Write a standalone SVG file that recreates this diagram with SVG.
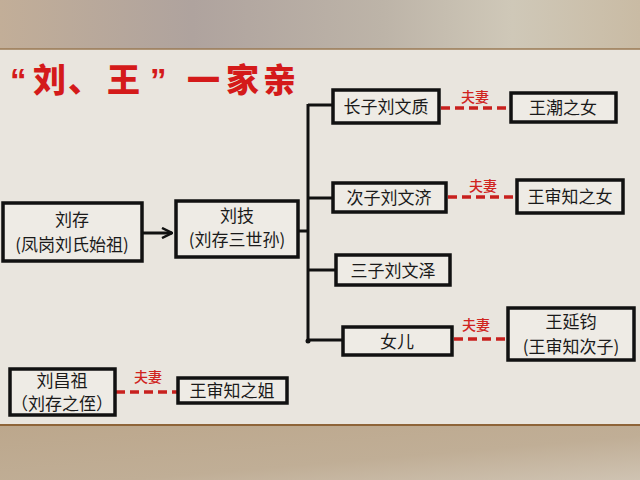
<svg xmlns="http://www.w3.org/2000/svg" width="640" height="480" viewBox="0 0 640 480">
<defs>
<linearGradient id="topband" x1="0" y1="0" x2="1" y2="0">
<stop offset="0" stop-color="#C2AE98"/>
<stop offset="0.3" stop-color="#AFA39E"/>
<stop offset="0.6" stop-color="#BDB4A8"/>
<stop offset="0.8" stop-color="#CFC8B8"/>
<stop offset="1" stop-color="#C9BBA4"/>
</linearGradient>
<linearGradient id="botband" x1="0" y1="0" x2="1" y2="1">
<stop offset="0" stop-color="#BCA78C"/>
<stop offset="0.6" stop-color="#C0AE96"/>
<stop offset="1" stop-color="#CFC3B2"/>
</linearGradient>
<marker id="arrow" viewBox="0 0 12 12" refX="11" refY="6" markerWidth="12" markerHeight="12" markerUnits="userSpaceOnUse" orient="auto">
<path d="M1,1 L11,6 L1,11" fill="none" stroke="#111" stroke-width="2.5"/>
</marker>
<style>
.box{fill:#EEEBE5;stroke:#111;stroke-width:3.5}
.t{font-family:"Noto Sans CJK SC","Noto Sans",sans-serif;font-size:17px;fill:#1a1a1a;text-anchor:middle}
.conn{fill:none;stroke:#111;stroke-width:3}
.dash{fill:none;stroke:#C8201E;stroke-width:3.5;stroke-dasharray:9,5}
.lbl{font-family:"Noto Sans CJK SC","Noto Sans",sans-serif;font-size:14px;fill:#D0241F;text-anchor:middle;font-weight:500}
.title{font-family:"Noto Sans CJK SC",sans-serif;font-size:33px;font-weight:900;fill:#D41A1A}
.q{font-family:"Liberation Sans",sans-serif;font-weight:bold}
</style>
</defs>
<rect x="0" y="0" width="640" height="480" fill="#E9E5DE"/>
<rect x="0" y="0" width="640" height="49" fill="url(#topband)"/>
<line x1="0" y1="49" x2="640" y2="49" stroke="#9A7A55" stroke-width="1.5"/>
<rect x="0" y="425" width="640" height="55" fill="url(#botband)"/>
<line x1="0" y1="425" x2="640" y2="425" stroke="#8E6438" stroke-width="2"/>

<text class="title" y="92"><tspan class="q" x="10">“</tspan><tspan x="33">刘</tspan><tspan x="68">、</tspan><tspan x="107">王</tspan><tspan class="q" x="150">”</tspan><tspan x="187">一</tspan><tspan x="226">家</tspan><tspan x="263">亲</tspan></text>

<g id="connectors">
<line class="conn" x1="142" y1="233" x2="172" y2="233" marker-end="url(#arrow)"/>
<line class="conn" x1="298" y1="231" x2="308" y2="231"/>
<line class="conn" x1="308" y1="104" x2="308" y2="341"/>
<line class="conn" x1="308" y1="105" x2="333" y2="105"/>
<line class="conn" x1="308" y1="198" x2="333" y2="198"/>
<line class="conn" x1="308" y1="270" x2="336" y2="270"/>
<line class="conn" x1="308" y1="340" x2="343" y2="340"/>
<circle cx="308" cy="341" r="2.5" fill="#111"/>
<line class="dash" x1="441" y1="108" x2="510" y2="108"/>
<line class="dash" x1="448" y1="197" x2="516" y2="197"/>
<line class="dash" x1="454" y1="339" x2="508" y2="339"/>
<line class="dash" x1="116" y1="392" x2="178" y2="392"/>
<text class="lbl" x="475" y="102">夫妻</text>
<text class="lbl" x="483" y="191">夫妻</text>
<text class="lbl" x="476" y="330">夫妻</text>
<text class="lbl" x="148" y="382">夫妻</text>
</g>

<g id="liucun">
<rect class="box" x="3" y="203" width="139" height="58"/>
<text class="t" x="72" y="226">刘存</text>
<text class="t" x="72" y="251">(凤岗刘氏始祖)</text>
</g>
<g id="liuji">
<rect class="box" x="176" y="201" width="122" height="56"/>
<text class="t" x="237" y="222">刘技</text>
<text class="t" x="237" y="246">(刘存三世孙)</text>
</g>
<g id="wenzhi">
<rect class="box" x="333" y="90" width="106" height="33"/>
<text class="t" x="386" y="113">长子刘文质</text>
</g>
<g id="wangchao">
<rect class="box" x="511" y="93" width="105" height="29"/>
<text class="t" x="563" y="114">王潮之女</text>
</g>
<g id="wenji">
<rect class="box" x="333" y="183" width="113" height="29"/>
<text class="t" x="389" y="204">次子刘文济</text>
</g>
<g id="wangshenzhi-daughter">
<rect class="box" x="517" y="180" width="106" height="33"/>
<text class="t" x="570" y="203">王审知之女</text>
</g>
<g id="wenze">
<rect class="box" x="336" y="255" width="114" height="30"/>
<text class="t" x="393" y="277">三子刘文泽</text>
</g>
<g id="nuer">
<rect class="box" x="343" y="327" width="109" height="28"/>
<text class="t" x="397" y="348">女儿</text>
</g>
<g id="wangyanjun">
<rect class="box" x="508" y="308" width="126" height="52"/>
<text class="t" x="571" y="328">王延钧</text>
<text class="t" x="571" y="353">(王审知次子)</text>
</g>
<g id="liuchangzu">
<rect class="box" x="10" y="369" width="105" height="46"/>
<text class="t" x="62" y="387">刘昌祖</text>
<text class="t" x="62" y="410">（刘存之侄）</text>
</g>
<g id="wangshenzhi-sister">
<rect class="box" x="178" y="378" width="109" height="25"/>
<text class="t" x="232" y="397">王审知之姐</text>
</g>
</svg>
